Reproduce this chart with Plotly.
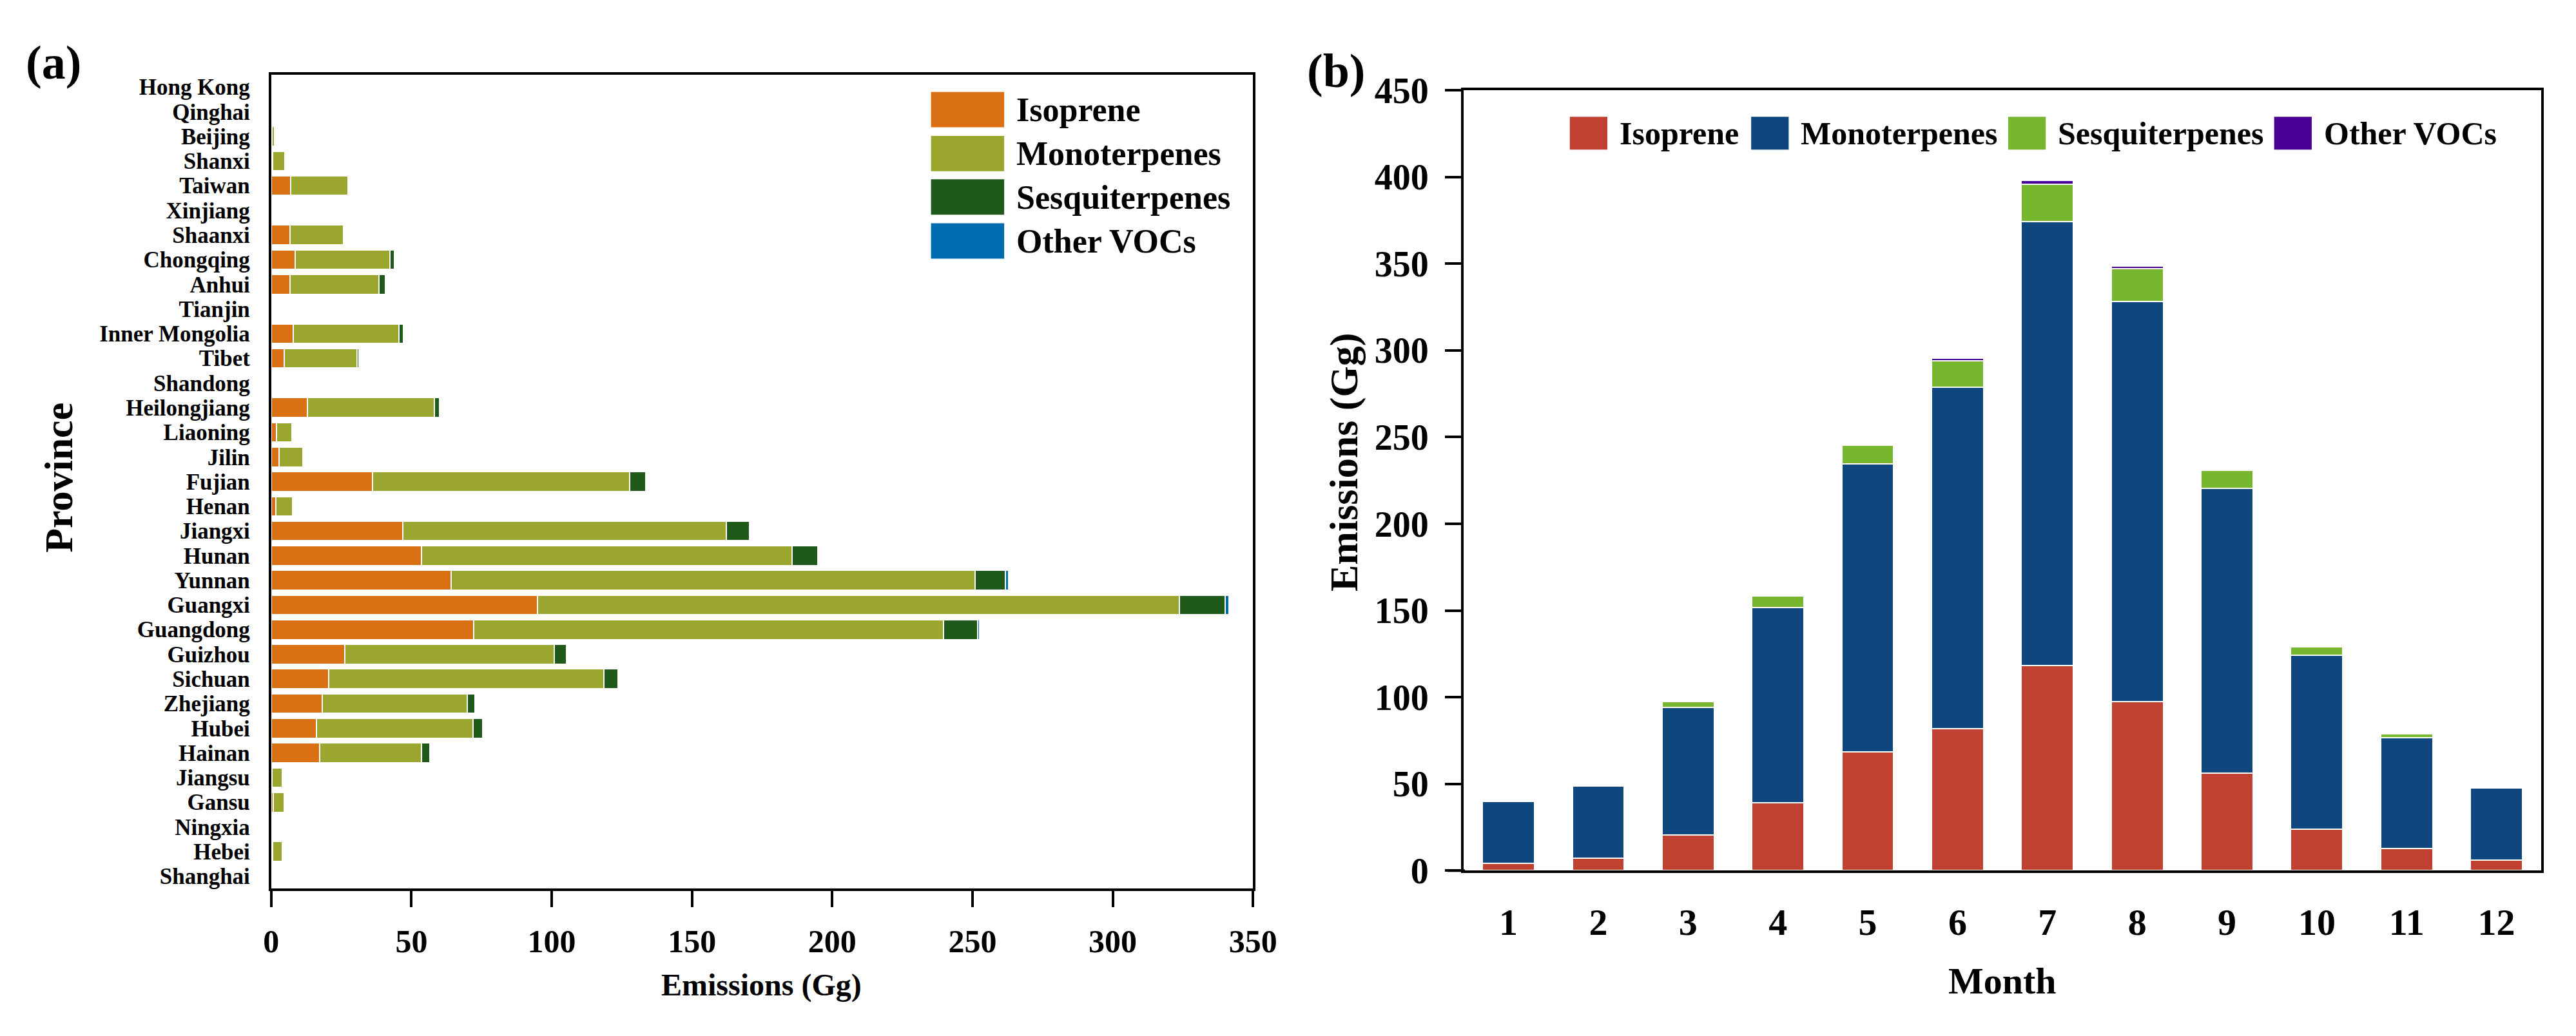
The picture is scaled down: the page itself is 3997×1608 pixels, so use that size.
import plotly.graph_objects as go

# ---------------- data ----------------
provinces = ["Hong Kong", "Qinghai", "Beijing", "Shanxi", "Taiwan", "Xinjiang", "Shaanxi",
             "Chongqing", "Anhui", "Tianjin", "Inner Mongolia", "Tibet", "Shandong",
             "Heilongjiang", "Liaoning", "Jilin", "Fujian", "Henan", "Jiangxi", "Hunan",
             "Yunnan", "Guangxi", "Guangdong", "Guizhou", "Sichuan", "Zhejiang", "Hubei",
             "Hainan", "Jiangsu", "Gansu", "Ningxia", "Hebei", "Shanghai"]
prov_isoprene = [0.0, 0.0, 0.2, 0.5, 7.0, 0.0, 6.8, 8.6, 6.8, 0.0, 7.8, 4.7, 0.0,
                 12.8, 1.8, 2.9, 36.2, 1.6, 46.9, 53.6, 64.1, 95.0, 72.1, 26.3, 20.6,
                 18.2, 16.1, 17.2, 0.3, 0.7, 0.0, 0.4, 0.0]
prov_monoterpenes = [0.0, 0.0, 1.1, 4.4, 20.3, 0.0, 19.0, 33.8, 31.7, 0.0, 37.8, 26.0, 0.0,
                     45.3, 5.5, 8.3, 91.7, 6.0, 115.3, 132.1, 186.9, 228.7, 167.5, 74.7,
                     97.9, 51.6, 55.8, 36.4, 3.6, 4.0, 0.0, 3.5, 0.0]
prov_sesquiterpenes = [0.0, 0.0, 0.0, 0.1, 0.5, 0.0, 0.5, 1.6, 2.1, 0.0, 1.5, 0.6, 0.0,
                       1.8, 0.1, 0.1, 5.7, 0.1, 8.4, 9.1, 10.7, 16.4, 12.2, 4.2, 5.2,
                       2.9, 3.6, 2.9, 0.1, 0.1, 0.0, 0.1, 0.0]
prov_other = [0.0, 0.0, 0.0, 0.0, 0.1, 0.0, 0.1, 0.1, 0.1, 0.0, 0.1, 0.1, 0.0,
              0.1, 0.0, 0.0, 0.3, 0.0, 0.4, 0.4, 1.1, 1.3, 0.8, 0.2, 0.3,
              0.1, 0.1, 0.1, 0.0, 0.0, 0.0, 0.0, 0.0]

months = [1, 2, 3, 4, 5, 6, 7, 8, 9, 10, 11, 12]
month_labels = ["1", "2", "3", "4", "5", "6", "7", "8", "9", "10", "11", "12"]
mon_isoprene = [4.2, 7.2, 20.4, 39.3, 68.4, 82.0, 118.3, 97.5, 56.3, 24.0, 12.7, 6.0]
mon_monoterpenes = [35.7, 41.4, 73.8, 112.5, 166.1, 196.8, 256.0, 230.8, 164.1, 100.2, 63.9, 41.8]
mon_sesquiterpenes = [0.4, 0.5, 3.2, 6.6, 10.9, 15.2, 21.3, 18.7, 10.4, 4.9, 2.2, 0.4]
mon_other = [0.1, 0.1, 0.3, 0.3, 0.5, 1.6, 2.4, 1.5, 0.4, 0.2, 0.1, 0.1]

species = ["Isoprene", "Monoterpenes", "Sesquiterpenes", "Other VOCs"]
colors_a = ["#D97013", "#9BA62F", "#1F5A1A", "#006BAE"]
colors_b = ["#C04132", "#10467E", "#76B72E", "#4B0095"]

x_ticks_a = [0, 50, 100, 150, 200, 250, 300, 350]
y_ticks_b = [0, 50, 100, 150, 200, 250, 300, 350, 400, 450]

# ---------------- helpers ----------------
W, H = 3997, 1608
FONT = "Liberation Serif"


def px(x):
    return x / W


def py(y):
    return 1 - y / H


def bfont(size):
    return dict(family=FONT, size=size, color="black", weight="bold")


fig = go.Figure()

for name, vals, c in zip(species,
                         [prov_isoprene, prov_monoterpenes, prov_sesquiterpenes, prov_other],
                         colors_a):
    fig.add_trace(go.Bar(y=provinces, x=vals, orientation="h", name=name,
                         marker=dict(color=c, line=dict(color="white", width=2)),
                         width=0.8, xaxis="x", yaxis="y", showlegend=False))

for name, vals, c in zip(species,
                         [mon_isoprene, mon_monoterpenes, mon_sesquiterpenes, mon_other],
                         colors_b):
    fig.add_trace(go.Bar(x=months, y=vals, name=name,
                         marker=dict(color=c, line=dict(color="white", width=2)),
                         width=0.58, xaxis="x2", yaxis="y2", showlegend=False))

axis_common = dict(showline=True, linecolor="black", mirror=True, showgrid=False,
                   zeroline=False)

fig.update_layout(
    width=W, height=H,
    margin=dict(l=0, r=0, t=0, b=0),
    paper_bgcolor="white", plot_bgcolor="white",
    barmode="stack",
    showlegend=False,
    xaxis=dict(domain=[px(405), px(1948)], anchor="y", range=[0, 350],
               tickmode="array", tickvals=x_ticks_a,
               ticks="outside", ticklen=25, tickwidth=4,
               tickcolor="black", linewidth=4, tickfont=bfont(50),
               ticklabelstandoff=10, **axis_common),
    yaxis=dict(domain=[py(1395), py(81)], anchor="x", type="category",
               categoryorder="array", categoryarray=provinces,
               tickmode="array", tickvals=provinces, ticktext=provinces,
               range=[len(provinces) - 0.5, -0.5], ticks="", linewidth=4,
               tickfont=bfont(35), ticklabelstandoff=22, **axis_common),
    xaxis2=dict(domain=[px(2279), px(3973)], anchor="y2", range=[0.5, 12.5],
                tickmode="array", tickvals=months, ticktext=month_labels,
                ticks="", linewidth=4,
                tickfont=bfont(58), ticklabelstandoff=26, **axis_common),
    yaxis2=dict(domain=[py(1366), py(106)], anchor="x2", range=[0, 450],
                tickmode="array", tickvals=y_ticks_b,
                ticks="outside", ticklen=25, tickwidth=4,
                tickcolor="black", linewidth=4, tickfont=bfont(56),
                ticklabelstandoff=14, **axis_common),
)

ann = []
# panel labels
ann.append(dict(text="(a)", x=px(63), y=py(61), font=bfont(74)))
ann.append(dict(text="(b)", x=px(2079), y=py(75), font=bfont(74)))
# axis titles
ann.append(dict(text="Province", x=px(71), y=py(732), textangle=-90, font=bfont(62)))
ann.append(dict(text="Emissions (Gg)", x=px(1176), y=py(1551), font=bfont(48)))
ann.append(dict(text="Emissions (Gg)", x=px(2091), y=py(707), textangle=-90, font=bfont(62)))
ann.append(dict(text="Month", x=px(3126), y=py(1544), font=bfont(58)))

shapes = []
# short extension of panel (b) x-axis line to the left of the y axis
shapes.append(dict(type="line", xref="paper", yref="paper",
                   x0=px(2254), x1=px(2281), y0=py(1366), y1=py(1366),
                   line=dict(color="black", width=4)))

# legend (a): vertical, top-right of left panel
leg_a_tops = [109, 180, 250, 321]
for name, c, top in zip(species, colors_a, leg_a_tops):
    shapes.append(dict(type="rect", xref="paper", yref="paper",
                       x0=px(1442), x1=px(1557), y0=py(top + 57), y1=py(top),
                       fillcolor=c, line=dict(width=0)))
    ann.append(dict(text=name, x=px(1574), y=py(top + 29), xanchor="left",
                    font=bfont(52)))

# legend (b): horizontal, top of right panel
leg_b_x = [2446, 2731, 3135, 3553]
for name, c, x0 in zip(species, colors_b, leg_b_x):
    shapes.append(dict(type="rect", xref="paper", yref="paper",
                       x0=px(x0), x1=px(x0 + 59), y0=py(202), y1=py(149),
                       fillcolor=c, line=dict(width=0)))
    ann.append(dict(text=name, x=px(x0 + 76), y=py(176), xanchor="left",
                    font=bfont(50)))

for a in ann:
    a.setdefault("xref", "paper")
    a.setdefault("yref", "paper")
    a.setdefault("showarrow", False)
    a.setdefault("xanchor", "center")
    a.setdefault("yanchor", "middle")

fig.update_layout(annotations=ann, shapes=shapes)

fig.write_html("out.html")
